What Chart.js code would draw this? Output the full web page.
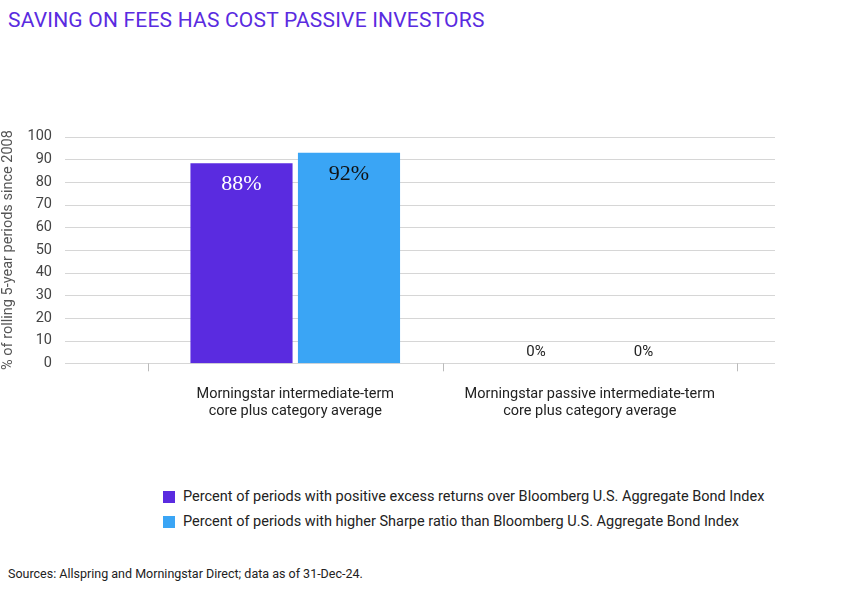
<!DOCTYPE html>
<html><head><meta charset="utf-8">
<script src="https://cdn.jsdelivr.net/npm/chart.js@4"></script>
<style>
body{margin:0;width:850px;height:607px;background:#fff;font-family:'Liberation Sans Narrow','Roboto',sans-serif;position:relative;overflow:hidden}
#title{position:absolute;left:8px;top:8px;font-size:21px;color:#5a2be0;font-family:'Roboto','Liberation Sans',sans-serif;letter-spacing:0.2px}
#wrap{position:absolute;left:0;top:40px;width:850px;height:420px}
#legend{position:absolute;left:163px;top:484px;font-size:14.5px;color:#222}
#legend div{display:flex;align-items:center;height:25px}
#legend span.sw{display:inline-block;width:12px;height:12px;margin-right:8px}
#src{position:absolute;left:8px;top:566px;font-size:12.5px;color:#222}
</style></head><body>
<div id="title">SAVING ON FEES HAS COST PASSIVE INVESTORS</div>
<div id="wrap"><canvas id="c"></canvas></div>
<div id="legend">
<div><span class="sw" style="background:#5a2be0"></span>Percent of periods with positive excess returns over Bloomberg U.S. Aggregate Bond Index</div>
<div><span class="sw" style="background:#3aa5f5"></span>Percent of periods with higher Sharpe ratio than Bloomberg U.S. Aggregate Bond Index</div>
</div>
<div id="src">Sources: Allspring and Morningstar Direct; data as of 31-Dec-24.</div>
<script>
const categories=[["Morningstar intermediate-term","core plus category average"],["Morningstar passive intermediate-term","core plus category average"]];
const excessReturns=[88.3,0];
const sharpeRatio=[92.9,0];
const excessLabels=["88%","0%"];
const sharpeLabels=["92%","0%"];
const yTicks=[0,10,20,30,40,50,60,70,80,90,100];
const FONT="'Liberation Sans Narrow','Roboto',sans-serif";
const gridPlugin={id:'grid',beforeDatasetsDraw(ch){
 const {ctx,chartArea:a,scales:{y}}=ch;ctx.save();
 ctx.strokeStyle='#d6d6d6';ctx.lineWidth=1;
 yTicks.forEach(v=>{const py=Math.round(y.getPixelForValue(v))+0.5;ctx.beginPath();ctx.moveTo(65,py);ctx.lineTo(a.right+38,py);ctx.stroke();});
 const py=y.getPixelForValue(0);ctx.strokeStyle='#bbb';
 [a.left,(a.left+a.right)/2,a.right].forEach(px=>{px=Math.round(px)+0.5;ctx.beginPath();ctx.moveTo(px,py);ctx.lineTo(px,py+8);ctx.stroke();});
 ctx.restore();}};
const labelPlugin={id:'lbl',afterDatasetsDraw(ch){
 const {ctx}=ch;ctx.save();ctx.textAlign='center';
 [excessLabels,sharpeLabels].forEach((labs,di)=>{
  ch.getDatasetMeta(di).data.forEach((bar,i)=>{
   const v=ch.data.datasets[di].data[i];
   if(v>5){ctx.font="22px 'Liberation Serif',serif";ctx.fillStyle=di===0?'#fff':'#111';ctx.textBaseline='top';ctx.fillText(labs[i],bar.x,bar.y+10);}
   else{ctx.font="15px "+FONT;ctx.fillStyle='#222';ctx.textBaseline='bottom';ctx.fillText(labs[i],bar.x,bar.y-4);}
  });});ctx.restore();}};
new Chart(document.getElementById('c'),{type:'bar',
 data:{labels:categories,datasets:[
  {data:excessReturns,backgroundColor:'#5a2be0'},
  {data:sharpeRatio,backgroundColor:'#3aa5f5'}]},
 options:{responsive:true,maintainAspectRatio:false,animation:false,
  layout:{padding:{left:0,right:113,top:23,bottom:0}},
  plugins:{legend:{display:false},tooltip:{enabled:false}},
  datasets:{bar:{categoryPercentage:0.73,barPercentage:0.95}},
  scales:{
   x:{afterFit(s){s.height=72;},grid:{display:false},border:{display:false},
    ticks:{color:'#222',font:{family:FONT,size:14.5},padding:14,maxRotation:0,minRotation:0,autoSkip:false}},
   y:{min:0,max:100,afterFit(s){s.width=148;},afterBuildTicks(s){s.ticks=yTicks.map(v=>({value:v}));},
    grid:{display:false},border:{display:false},
    ticks:{color:'#444',font:{family:FONT,size:14.5},padding:88,autoSkip:false},
    title:{display:true,text:'% of rolling 5-year periods since 2008',color:'#555',font:{family:FONT,size:14.5},padding:0}}}},
 plugins:[gridPlugin,labelPlugin]});
</script></body></html>
